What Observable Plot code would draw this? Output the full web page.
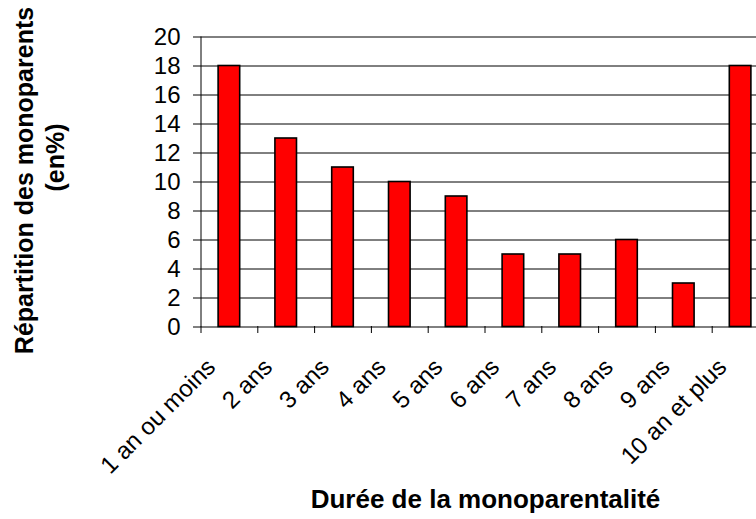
<!DOCTYPE html>
<html><head><meta charset="utf-8">
<script src="https://cdn.jsdelivr.net/npm/d3@7"></script>
<script src="https://cdn.jsdelivr.net/npm/@observablehq/plot@0.6"></script>
<style>
body{margin:0;background:#fff}
#chart svg{font-family:"Liberation Sans",Arial,sans-serif;overflow:hidden}
</style>
</head><body><div id="chart"></div>
<script>
const categories = ["1 an ou moins","2 ans","3 ans","4 ans","5 ans","6 ans","7 ans","8 ans","9 ans","10 an et plus"];
const values = [18,13,11,10,9,5,5,6,3,18];
const yTicks = [0,2,4,6,8,10,12,14,16,18,20];
const xTitle = "Durée de la monoparentalité";
const yTitleLine1 = "Répartition des monoparents";
const yTitleLine2 = "(en%)";

const data = categories.map((c, i) => ({c, i, v: values[i]}));
const boundaries = d3.range(categories.length + 1);

const plot = Plot.plot({
  width: 756, height: 519,
  marginLeft: 200, marginRight: 0, marginTop: 36, marginBottom: 193,
  x: {type: "linear", domain: [0, categories.length], range: [200.5, 768.5]},
  y: {domain: [0, 20], range: [326.5, 36.5]},
  style: {fontFamily: "'Liberation Sans', Arial, sans-serif", fontSize: "24px", color: "#000", background: "#fff"},
  marks: [
    Plot.ruleY(yTicks.filter(t => t > 0), {stroke: "#000", strokeWidth: 1}),
    Plot.rectY(data, {x1: d => d.i + 0.31, x2: d => d.i + 0.69, y: "v", fill: "#ff0000", stroke: "#000", strokeWidth: 1.6}),
    Plot.ruleY([0], {stroke: "#000"}),
    Plot.ruleX([0], {y1: 0, y2: 20, stroke: "#000"}),
    Plot.axisY({ticks: yTicks, tickSize: 7, tickPadding: 13, fontSize: 24, label: null, stroke: "#000"}),
    Plot.axisX({ticks: boundaries, tickSize: 7, tickFormat: () => "", label: null, stroke: "#000"}),
    Plot.text(data, {x: d => d.i + 0.5, y: 0, text: "c", rotate: -45, textAnchor: "end", lineAnchor: "middle", dx: -18, dy: 36, fontSize: 24, fill: "#000"}),
    Plot.text([xTitle], {frameAnchor: "bottom", textAnchor: "middle", dx: 7, dy: 181, fontSize: 26, fontWeight: "bold", fill: "#000"}),
    Plot.text([yTitleLine1], {frameAnchor: "left", textAnchor: "middle", rotate: -90, dx: -176, dy: -1, fontSize: 25, fontWeight: "bold", fill: "#000"}),
    Plot.text([yTitleLine2], {frameAnchor: "left", textAnchor: "middle", rotate: -90, dx: -145, dy: -24, fontSize: 25, fontWeight: "bold", fill: "#000"})
  ]
});
document.getElementById("chart").append(plot);
</script>
</body></html>
